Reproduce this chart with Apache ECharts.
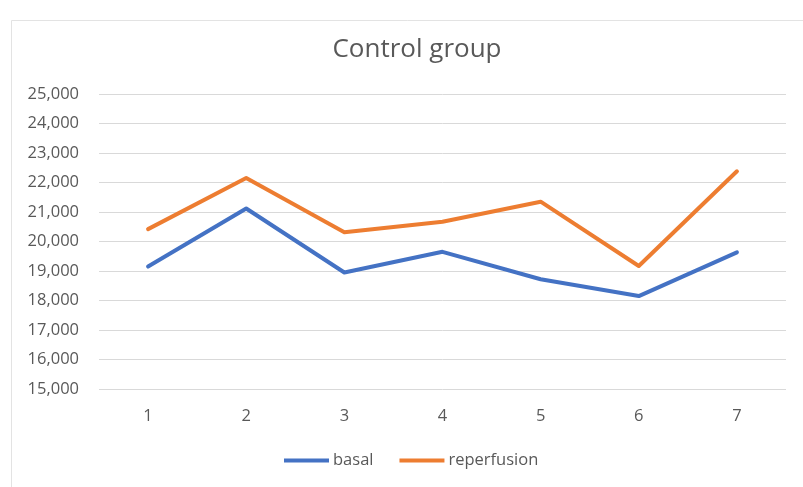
<!DOCTYPE html>
<html>
<head>
<meta charset="utf-8">
<script src="https://cdn.jsdelivr.net/npm/echarts@6/dist/echarts.min.js"></script>
<style>
html,body{margin:0;padding:0;background:#fff;}
#chart{width:803px;height:487px;}
</style>
</head>
<body>
<div id="chart"></div>
<script>
const categories = ['1', '2', '3', '4', '5', '6', '7'];
const basal = [19150, 21120, 18950, 19650, 18720, 18150, 19630];
const reperfusion = [20420, 22150, 20310, 20670, 21350, 19170, 22380];
const yMin = 15000, yMax = 25000, yStep = 1000;

const FONT = '"Open Sans"';
const chart = echarts.init(document.getElementById('chart'));
chart.setOption({
  backgroundColor: '#ffffff',
  animation: false,
  title: {
    text: 'Control group',
    left: 412,
    textAlign: 'center',
    top: 32,
    textStyle: { fontFamily: FONT, fontSize: 26, fontWeight: 'normal', color: '#595959' }
  },
  legend: {
    bottom: 13,
    left: 279,
    itemWidth: 45,
    itemHeight: 4,
    itemGap: 26,
    icon: 'rect',
    textStyle: { fontFamily: FONT, fontSize: 16.5, color: '#595959', padding: [0, 0, 0, -1] },
    data: ['basal', 'reperfusion']
  },
  grid: { left: 99, right: 17, top: 94, bottom: 98, containLabel: false },
  xAxis: {
    type: 'category',
    data: categories,
    boundaryGap: true,
    axisLine: { show: false },
    axisTick: { show: false },
    axisLabel: { fontFamily: FONT, fontSize: 16.5, color: '#595959', margin: 19 }
  },
  yAxis: {
    type: 'value',
    min: yMin, max: yMax, interval: yStep,
    axisLine: { show: false },
    axisTick: { show: false },
    splitLine: { lineStyle: { color: '#d9d9d9', width: 1 } },
    axisLabel: {
      fontFamily: FONT, fontSize: 16.5, color: '#595959', margin: 20,
      formatter: v => v.toLocaleString('en-US')
    }
  },
  series: [
    { name: 'basal', type: 'line', data: basal, showSymbol: false, symbol: 'none',
      lineStyle: { color: '#4472C4', width: 4, cap: 'round', join: 'round' }, itemStyle: { color: '#4472C4' } },
    { name: 'reperfusion', type: 'line', data: reperfusion, showSymbol: false, symbol: 'none',
      lineStyle: { color: '#ED7D31', width: 4, cap: 'round', join: 'round' }, itemStyle: { color: '#ED7D31' } }
  ],
  graphic: [
    { type: 'rect', left: 9, top: 18, shape: { width: 820, height: 500 }, silent: true, z: -1,
      style: { fill: 'none', stroke: '#e3e3e3', lineWidth: 1 } }
  ]
});
</script>
</body>
</html>
